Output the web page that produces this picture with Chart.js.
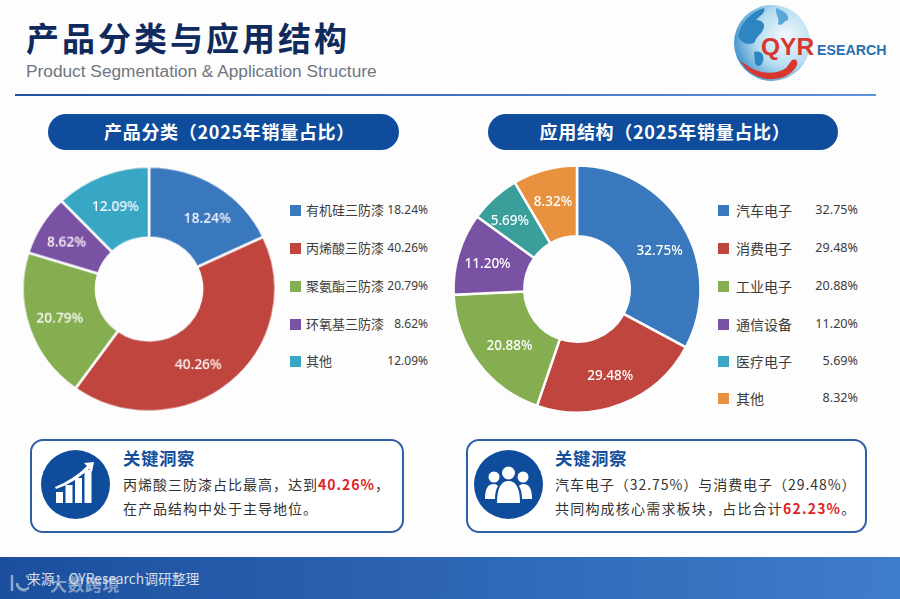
<!DOCTYPE html>
<html lang="zh">
<head>
<meta charset="utf-8">
<title>产品分类与应用结构</title>
<script src="https://cdn.jsdelivr.net/npm/chart.js@4/dist/chart.umd.min.js"></script>
<style>
  html, body { margin: 0; padding: 0; background: #fdfdfe; }
  body { width: 900px; height: 599px; position: relative; overflow: hidden; font-family: "Noto Sans CJK SC", "Noto Sans", sans-serif; color: #333; }
  .abs { position: absolute; white-space: nowrap; }
  #title { left: 26px; top: 12px; font-size: 33px; line-height: 50px; font-weight: 700; color: #102a5c; letter-spacing: 3px; }
  #subtitle { left: 26px; top: 60px; font-family: "Liberation Sans", sans-serif; font-size: 17.3px; line-height: 22px; color: #6f7580; }
  #rule { left: 15px; top: 94px; width: 861px; height: 2px; background: linear-gradient(90deg, #23519c, #5f93d8); }
  .pill { top: 114px; height: 36px; line-height: 35px; border-radius: 18px; background: #0f4c9c; color: #fff; text-align: center; font-size: 18px; font-weight: 700; letter-spacing: .7px; }
  canvas { position: absolute; }
  .swatch { position: absolute; width: 11px; height: 11px; }
  .leg, .pct { position: absolute; line-height: 18px; white-space: nowrap; color: #3c3c3c; }
  .pct { text-align: right; font-family: "Noto Sans", sans-serif; }
  .box { top: 439px; height: 90px; border: 2px solid #2f5fa8; border-radius: 13px; background: #fff; }
  .insight-head { top: 447px; font-size: 17.5px; line-height: 22px; font-weight: 700; color: #174f9c; letter-spacing: .5px; }
  .insight { font-size: 14px; line-height: 20px; color: #333; letter-spacing: 1px; }
  .insight b { color: #e01f26; font-weight: 700; }
  #footer { left: 0; top: 557px; width: 900px; height: 42px; background: linear-gradient(90deg, #1b4f9e, #3f7cc9); }
  #source { left: 27px; top: 568px; font-size: 13.8px; line-height: 20px; color: rgba(255,255,255,.82); }
  #mark { left: 50px; top: 572px; font-size: 17px; line-height: 24px; font-weight: 700; color: rgba(220,225,235,.55); letter-spacing: .5px; }
  #logoQ { left: 761px; top: 33px; font-family: "Liberation Sans", sans-serif; font-weight: 700; font-size: 24.5px; line-height: 28px; color: #d8362f; }
  #logoE { left: 817px; top: 41px; font-family: "Liberation Sans", sans-serif; font-weight: 700; font-size: 14.2px; line-height: 18px; color: #2a6fb2; }
</style>
</head>
<body>
<div class="abs" id="title">产品分类与应用结构</div>
<div class="abs" id="subtitle">Product Segmentation &amp; Application Structure</div>
<div class="abs" id="rule"></div>

<svg class="abs" style="left:730px;top:0" width="90" height="85" viewBox="0 0 90 85">
  <defs>
    <radialGradient id="sea" cx="68%" cy="42%" r="72%">
      <stop offset="0" stop-color="#f4fafd"/><stop offset=".55" stop-color="#b5dcf0"/><stop offset="1" stop-color="#3a8fca"/>
    </radialGradient>
  </defs>
  <circle cx="42" cy="43" r="38" fill="url(#sea)"/>
  <path d="M8 36 C11 22 22 11 34 8 C36 13 30 15 26 20 C32 20 36 24 33 30 C30 36 26 36 25 42 C20 46 11 44 8 36Z" fill="#2f84c2"/>
  <path d="M24 52 C30 50 35 54 33 61 C31 67 27 68 25 63Z" fill="#2f84c2"/>
  <path d="M46 8 C52 10 60 14 58 20 C53 21 53 27 48 24 C50 18 45 14 46 8Z" fill="#5aa6d6"/>
  <path d="M10 60 C18 76 38 84 56 76 C64 72 70 64 66 60 C61 58 60 64 56 68 C42 77 24 73 10 60Z" fill="#d8362f"/>
</svg>
<div class="abs" id="logoQ">QYR</div>
<div class="abs" id="logoE">ESEARCH</div>

<div class="abs pill" style="left:48px;width:351px;text-indent:12px">产品分类（2025年销量占比）</div>
<div class="abs pill" style="left:488px;width:350px;text-indent:4px">应用结构（2025年销量占比）</div>

<canvas id="productChart" style="left:19px;top:158.500px;transform:scale(1.020,.988)"></canvas>
<canvas id="appChart" style="left:446.500px;top:158.500px"></canvas>
<div id="productLegend"></div>
<div id="appLegend"></div>

<div class="abs box" style="left:30px;width:370px"></div>
<svg class="abs" style="left:41px;top:450px" width="69" height="69" viewBox="0 0 69 69">
  <circle cx="34.500" cy="34.500" r="34.500" fill="#0f4c9c"/>
  <g fill="#fff">
    <rect x="15" y="42" width="7" height="11"/><rect x="24.500" y="35" width="7" height="18"/>
    <rect x="34" y="28" width="7" height="25"/><rect x="43.500" y="20" width="7" height="33"/>
    <path d="M14 37 C26 32 37 25 46 16 L43 13 L53 12 L51 22 L48 19 C38 28 27 35 15 39Z"/>
  </g>
</svg>
<div class="abs insight-head" style="left:123px">关键洞察</div>
<div class="abs insight" style="left:123px;top:474px">丙烯酸三防漆占比最高，达到<b>40.26%</b>，</div>
<div class="abs insight" style="left:123px;top:498px">在产品结构中处于主导地位。</div>

<div class="abs box" style="left:466px;width:397px"></div>
<svg class="abs" style="left:474px;top:450px" width="69" height="69" viewBox="0 0 69 69">
  <circle cx="34.500" cy="34.500" r="34.500" fill="#0f4c9c"/>
  <g fill="#fff">
    <circle cx="20" cy="27" r="5.500"/><circle cx="49" cy="27" r="5.500"/><circle cx="34.500" cy="23" r="6.500"/>
    <path d="M11 49 C11 38 14 34 20 34 C22 34 23 35 24 36 C22 39 21 43 21 49Z"/>
    <path d="M58 49 C58 38 55 34 49 34 C47 34 46 35 45 36 C47 39 48 43 48 49Z"/>
    <path d="M23 53 C23 38 27 31 34.500 31 C42 31 46 38 46 53Z"/>
  </g>
</svg>
<div class="abs insight-head" style="left:555px">关键洞察</div>
<div class="abs insight" style="left:555px;top:474px;letter-spacing:.95px">汽车电子（32.75%）与消费电子（29.48%）</div>
<div class="abs insight" style="left:555px;top:498px;letter-spacing:1.2px">共同构成核心需求板块，占比合计<b>62.23%</b>。</div>

<div class="abs" id="footer"></div>
<div class="abs" id="source">来源：QYResearch调研整理</div>
<svg class="abs" style="left:9px;top:572px" width="20" height="22" viewBox="0 0 20 22">
  <path d="M3 3 V19 M8 11 A7 7 0 1 0 17 4 M8 11 A7 7 0 0 0 17 18" fill="none" stroke="rgba(220,225,235,.6)" stroke-width="2.500"/>
</svg>
<div class="abs" id="mark">大数跨境</div>

<script>
// 产品分类
const productNames = ['有机硅三防漆', '丙烯酸三防漆', '聚氨酯三防漆', '环氧基三防漆', '其他'];
const productLabels = ['18.24%', '40.26%', '20.79%', '8.62%', '12.09%'];
// slice sizes as drawn in the picture, they do not follow the printed percentages exactly
const productSlices = [18.0, 41.9, 19.9, 8.0, 12.2];
const productColors = ['#3a78bd', '#bf453e', '#84ae50', '#7a52a3', '#37a7c5'];

// 应用结构
const appNames = ['汽车电子', '消费电子', '工业电子', '通信设备', '医疗电子', '其他'];
const appLabels = ['32.75%', '29.48%', '20.88%', '11.20%', '5.69%', '8.32%'];
const appSlices = [32.8, 22.4, 19.0, 10.7, 6.6, 8.4];
const appColors = ['#3a78bd', '#bf453e', '#84ae50', '#7a52a3', '#3a9f9b', '#e8923f'];
const appLegendColors = ['#3a78bd', '#bf453e', '#84ae50', '#7a52a3', '#3aa7c7', '#e8923f'];

// prints the percentage in each slice, the nudges move it off the exact middle like the original
const sliceLabels = {
  id: 'sliceLabels',
  afterDatasetsDraw(chart, args, opts) {
    const ctx = chart.ctx;
    ctx.save();
    ctx.font = '500 13.5px "Noto Sans", sans-serif';
    ctx.fillStyle = '#fff';
    ctx.textAlign = 'center';
    ctx.textBaseline = 'middle';
    chart.getDatasetMeta(0).data.forEach((arc, i) => {
      const p = arc.tooltipPosition();
      ctx.fillText(opts.texts[i], p.x + opts.nudges[i][0], p.y + opts.nudges[i][1]);
    });
    ctx.restore();
  }
};

function makeDonut(id, size, names, slices, colors, texts, nudges, outer, inner) {
  const canvas = document.getElementById(id);
  canvas.width = size;
  canvas.height = size;
  canvas.style.width = size + 'px';
  canvas.style.height = size + 'px';
  new Chart(canvas, {
    type: 'doughnut',
    data: {
      labels: names,
      datasets: [{
        data: slices,
        backgroundColor: colors,
        borderColor: '#fdfdfe',
        borderWidth: 2.5,
        borderAlign: 'center'
      }]
    },
    options: {
      responsive: false,
      animation: false,
      radius: outer,
      cutout: inner,
      plugins: {
        legend: { display: false },
        tooltip: { enabled: false },
        sliceLabels: { texts: texts, nudges: nudges }
      }
    },
    plugins: [sliceLabels]
  });
}

function makeLegend(id, names, colors, texts, swatchX, textX, pctRight, fontSize, pctSize) {
  const holder = document.getElementById(id);
  const rows = [210, 248, 286, 324, 361, 398];
  names.forEach((name, i) => {
    const sw = document.createElement('div');
    sw.className = 'swatch';
    sw.style.cssText = `left:${swatchX}px;top:${rows[i] - 5}px;background:${colors[i]}`;
    holder.appendChild(sw);
    const label = document.createElement('div');
    label.className = 'leg';
    label.textContent = name;
    label.style.cssText = `left:${textX}px;top:${rows[i] - 9}px;font-size:${fontSize}px`;
    holder.appendChild(label);
    const pct = document.createElement('div');
    pct.className = 'pct';
    pct.textContent = texts[i];
    pct.style.cssText = `left:${pctRight - 60}px;width:60px;top:${rows[i] - 9}px;font-size:${pctSize}px`;
    holder.appendChild(pct);
  });
}

makeDonut('productChart', 260, productNames, productSlices, productColors, productLabels,
  [[10, 3], [-8, 10], [-4, 2], [-6, -1], [0, -1]], 124, 54);
makeDonut('appChart', 260, appNames, appSlices, appColors, appLabels,
  [[7, 7], [1, 5], [3, 4], [-5, 0], [-8, -3], [-1, -2]], 123.5, 55);
makeLegend('productLegend', productNames, productColors, productLabels, 290, 306, 428, 13, 12);
makeLegend('appLegend', appNames, appLegendColors, appLabels, 718, 736, 858, 14, 12.6);
</script>
</body>
</html>
